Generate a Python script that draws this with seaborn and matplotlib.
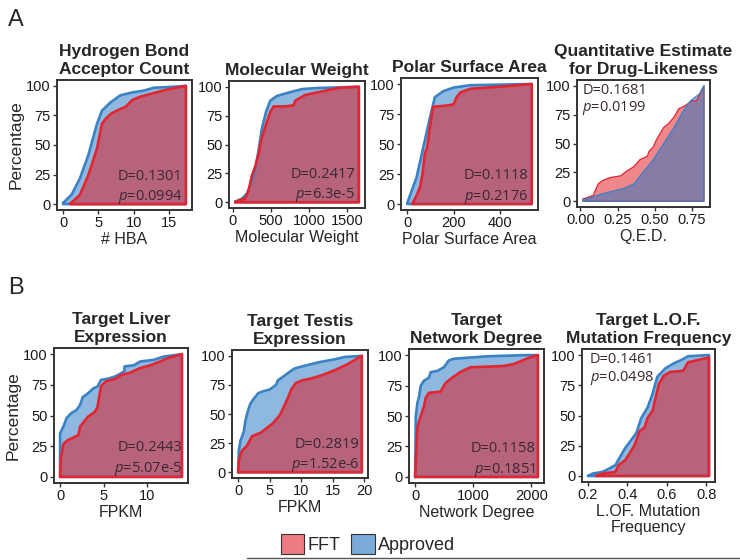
import matplotlib
matplotlib.use("Agg")
import matplotlib.pyplot as plt
from matplotlib.lines import Line2D
from matplotlib.patches import Patch
from matplotlib.ticker import FormatStrFormatter
import seaborn as sns

# ---- data: cumulative percentage curves (x, %) ----
# A1 hydrogen bond acceptor count
hba_app_x = [0, 1.2, 2.4, 3.6, 4.8, 5.5, 6.7, 8.1, 9.8, 11.4, 12.9, 14.8, 17.4]
hba_app_y = [1, 8, 22, 42, 68, 79, 86, 92, 94.5, 96, 98.5, 99, 100]
hba_fft_x = [1, 1.7, 2.4, 3.6, 4.8, 5.5, 6, 6.9, 8.3, 8.8, 9.8, 11, 12.9, 14.8, 17.4]
hba_fft_y = [0.5, 4, 8, 25, 47, 68, 72, 77, 81, 82, 88, 91, 94, 97, 100]

# A2 molecular weight
mw_app_x = [31, 118, 184, 228, 294, 338, 382, 434, 491, 579, 732, 908, 1127, 1653]
mw_app_y = [0.5, 3, 7.5, 14, 28, 45, 64, 78, 88, 92, 95, 98, 99, 100]
mw_fft_x = [31, 96, 162, 206, 250, 294, 338, 382, 434, 491, 535, 689, 798, 820, 952, 1171, 1390, 1653]
mw_fft_y = [0, 2, 3, 10, 23, 31, 42, 56, 67, 78, 83, 83, 84, 88, 93, 96, 99, 100]

# A3 polar surface area
psa_app_x = [0, 19, 40, 69, 98, 119, 155, 199, 271, 537]
psa_app_y = [0.5, 11, 22, 47, 72, 89, 94, 97, 99, 100]
psa_fft_x = [23, 40, 55, 66, 76, 86, 98, 112, 170, 199, 213, 230, 271, 414, 537]
psa_fft_y = [0.5, 7, 14, 25, 42, 47, 64, 81, 82, 83, 89, 93, 96, 98, 100]

# A4 QED
qed_fft_x = [0.018, 0.086, 0.12, 0.15, 0.20, 0.27, 0.31, 0.36, 0.40, 0.45, 0.46, 0.49, 0.51,
             0.56, 0.59, 0.63, 0.66, 0.70, 0.75, 0.78, 0.83]
qed_fft_y = [2, 5, 15, 18, 20.5, 22, 26, 30, 36, 39, 43, 47, 53, 64, 67, 73, 80, 82.5, 87, 87, 100]
qed_app_x = [0.018, 0.15, 0.29, 0.36, 0.42, 0.49, 0.56, 0.63, 0.69, 0.74, 0.80, 0.83]
qed_app_y = [1, 6.5, 11, 15, 25, 36, 50, 64, 78, 87, 93, 100]

# B1 liver expression (FPKM)
liver_app_x = [0, 0, 0.38, 0.75, 1.3, 1.9, 2.3, 2.6, 3.2, 3.8, 4.3, 4.7, 5.5, 6.4, 7.4, 7.4,
               8.5, 9.2, 10.8, 11.9, 14]
liver_app_y = [0, 35.4, 41, 48, 52, 54.5, 58.6, 65, 68, 72, 73.6, 79, 80, 82, 86, 90,
               91, 94, 95.4, 98, 100]
liver_fft_x = [0, 0.1, 0.4, 0.9, 2.1, 2.3, 3.2, 4, 4.3, 4.7, 5.3, 6.4, 7, 7.9, 9.2, 10.4, 11.5, 12.3, 14]
liver_fft_y = [0, 16, 27, 30, 34, 41, 49, 53, 57, 74, 78, 80, 83, 84.5, 88.6, 91, 94, 96.6, 100]

# B2 testis expression (FPKM)
testis_app_x = [0, 0.1, 0.36, 0.9, 1.1, 1.4, 1.9, 2.4, 3.2, 4, 5, 6, 6.3, 7.1, 8.1, 8.9,
                10.2, 12.8, 15.3, 16.9, 19.6]
testis_app_y = [0, 18.5, 27, 35, 43, 50, 58.6, 62.7, 68, 69.6, 71, 75, 79, 82, 86, 89,
                91, 94.5, 97, 99, 100]
testis_fft_x = [0, 0.1, 0.6, 1.4, 2.2, 3.5, 4.5, 5.5, 6.6, 7.3, 7.9, 8.4, 9.1, 10.2, 11.7,
                13.3, 15.3, 17.4, 19.6]
testis_fft_y = [0, 10, 18.5, 22.7, 31, 33.7, 37.8, 42, 49, 57, 64, 71, 76.5, 79, 80.7,
                83.4, 87.6, 93, 100]

# B3 network degree
degree_app_x = [0, 11, 40, 68, 97, 153, 239, 267, 381, 494, 580, 665, 1233, 1915, 2114]
degree_app_y = [0, 50, 61, 66, 75, 79, 81.5, 86, 87, 90, 95.6, 97, 99, 100, 100]
degree_fft_x = [0, 40, 97, 153, 182, 239, 437, 523, 636, 778, 949, 1517, 1688, 1972, 2114]
degree_fft_y = [0, 41, 50, 58, 65, 69, 70, 77, 81.5, 86, 90, 91, 92.5, 98, 100]

# B4 loss-of-function mutation frequency
lof_app_x = [0.2, 0.224, 0.274, 0.306, 0.339, 0.363, 0.388, 0.42, 0.445, 0.47, 0.502, 0.527,
             0.551, 0.592, 0.633, 0.674, 0.707, 0.813]
lof_app_y = [0, 2, 3.4, 6, 9, 16, 23, 30, 35.6, 48, 56.6, 68, 82, 89, 93, 96, 99, 100]
lof_fft_x = [0.241, 0.274, 0.339, 0.355, 0.388, 0.412, 0.437, 0.461, 0.486, 0.502, 0.527,
             0.543, 0.559, 0.584, 0.617, 0.682, 0.707, 0.813]
lof_fft_y = [0, 2, 3.4, 9, 13, 19, 26, 37, 40, 48, 54, 65, 76, 83, 86, 87, 94, 98]

stats_d = ["0.1301", "0.2417", "0.1118", "0.1681", "0.2443", "0.2819", "0.1158", "0.1461"]
stats_p = ["0.0994", "6.3e-5", "0.2176", "0.0199", "5.07e-5", "1.52e-6", "0.1851", "0.0498"]

titles = ["Hydrogen Bond\nAcceptor Count", "Molecular Weight", "Polar Surface Area",
          "Quantitative Estimate\nfor Drug-Likeness", "Target Liver\nExpression",
          "Target Testis\nExpression", "Target\nNetwork Degree", "Target L.O.F.\nMutation Frequency"]
xlabels = ["# HBA", "Molecular Weight", "Polar Surface Area", "Q.E.D.", "FPKM", "FPKM",
           "Network Degree", "L.OF. Mutation\nFrequency"]
xticks = [[0, 5, 10, 15], [0, 500, 1000, 1500], [0, 200, 400], [0, 0.25, 0.5, 0.75],
          [0, 5, 10], [0, 5, 10, 15, 20], [0, 1000, 2000], [0.2, 0.4, 0.6, 0.8]]
yticks = [0, 25, 50, 75, 100]

curves = [
    (hba_app_x, hba_app_y, hba_fft_x, hba_fft_y),
    (mw_app_x, mw_app_y, mw_fft_x, mw_fft_y),
    (psa_app_x, psa_app_y, psa_fft_x, psa_fft_y),
    (qed_app_x, qed_app_y, qed_fft_x, qed_fft_y),
    (liver_app_x, liver_app_y, liver_fft_x, liver_fft_y),
    (testis_app_x, testis_app_y, testis_fft_x, testis_fft_y),
    (degree_app_x, degree_app_y, degree_fft_x, degree_fft_y),
    (lof_app_x, lof_app_y, lof_fft_x, lof_fft_y),
]

# ---- layout (pixel boxes: left, top, right, bottom) ----
W, H = 740, 560
boxes = [(57, 80, 192, 210), (229, 81, 365, 208), (401, 78, 538, 210), (577, 80, 710, 207),
         (54, 348, 188, 483), (232, 350, 368, 478), (409, 349, 544, 483), (582, 349, 715, 482)]
# where the D / p text sits (x in axes fraction, alignment, y of D line, y of p line)
anno = [(0.93, "right", 0.26, 0.10), (0.93, "right", 0.26, 0.10), (0.93, "right", 0.26, 0.10),
        (0.04, "left", 0.92, 0.78), (0.96, "right", 0.26, 0.10), (0.94, "right", 0.26, 0.10),
        (0.94, "right", 0.26, 0.10), (0.06, "left", 0.92, 0.78)]

BLUE_FILL, RED_FILL = "#1f72c0", "#e0101a"
BLUE_LINE, RED_LINE = "#3a82c6", "#e42530"

sns.set_style("ticks")
plt.rcParams["font.family"] = ["Liberation Sans", "DejaVu Sans"]
plt.rcParams["mathtext.fontset"] = "custom"
plt.rcParams["mathtext.it"] = "Open Sans:italic"
plt.rcParams["mathtext.rm"] = "Open Sans"


def draw_cdf(ax, xs, ys, fill, line, lw):
    px = list(xs) + [xs[-1], xs[0], xs[0]]
    py = list(ys) + [0, 0, ys[0]]
    ax.fill(px, py, color=fill, alpha=0.5, lw=0)
    sns.lineplot(x=px, y=py, sort=False, estimator=None, color=line, lw=lw, ax=ax)


fig = plt.figure(figsize=(W / 100, H / 100), dpi=100)

for i, (l, t, r, b) in enumerate(boxes):
    ax = fig.add_axes([l / W, 1 - b / H, (r - l) / W, (b - t) / H])
    app_x, app_y, fft_x, fft_y = curves[i]
    if i == 3:
        # QED panel: thin lines, approved drawn on top
        draw_cdf(ax, fft_x, fft_y, RED_FILL, RED_LINE, 0.9)
        draw_cdf(ax, app_x, app_y, BLUE_FILL, BLUE_LINE, 0.9)
    else:
        draw_cdf(ax, app_x, app_y, BLUE_FILL, BLUE_LINE, 1.9)
        draw_cdf(ax, fft_x, fft_y, RED_FILL, RED_LINE, 1.9)

    lo = min(min(app_x), min(fft_x))
    hi = max(max(app_x), max(fft_x))
    pad = (hi - lo) * 0.05
    ax.set_xlim(lo - pad, hi + pad)
    ax.set_ylim(-5, 105)
    ax.set_xticks(xticks[i])
    ax.set_yticks(yticks)
    if i == 3:
        ax.xaxis.set_major_formatter(FormatStrFormatter("%.2f"))
    elif i == 7:
        ax.xaxis.set_major_formatter(FormatStrFormatter("%.1f"))
    ax.tick_params(labelsize=10.5, length=3, width=1, color="#333333", pad=1.5,
                   labelcolor="#1a1a1a")
    for s in ax.spines.values():
        s.set_color("#333333")
        s.set_linewidth(1.4)

    ax.set_title(titles[i], fontsize=12.5, fontweight="bold", pad=4, linespacing=1.3)
    ax.set_xlabel(xlabels[i], fontsize=11.5, labelpad=1, linespacing=1.15)
    if i % 4 == 0:
        ax.set_ylabel("Percentage", fontsize=12.5, labelpad=2)
    else:
        ax.set_ylabel("")

    ax_x, ha, yd, yp = anno[i]
    ax.text(ax_x, yd, "D=" + stats_d[i], transform=ax.transAxes, ha=ha, va="center",
            fontsize=10.5, family="Open Sans", color="#3a2830")
    ax.text(ax_x, yp, "$p$=" + stats_p[i], transform=ax.transAxes, ha=ha, va="center",
            fontsize=10.5, family="Open Sans", color="#3a2830")

fig.text(8 / W, 1 - 9 / H, "A", fontsize=17, va="top", ha="left")
fig.text(8 / W, 1 - 277 / H, "B", fontsize=17, va="top", ha="left")

handles = [Patch(facecolor="#ee7a82", edgecolor="#333333", lw=0.8),
           Patch(facecolor="#7aaad8", edgecolor="#333333", lw=0.8)]
fig.legend(handles, ["FFT", "Approved"], loc="center", bbox_to_anchor=(368 / W, 1 - 544 / H),
           ncol=2, frameon=False, fontsize=13, handlelength=1.3, handleheight=1.3,
           handletextpad=0.2, columnspacing=0.6)
fig.add_artist(Line2D([247 / W, 1.0], [1 - 558 / H, 1 - 558 / H], transform=fig.transFigure,
                      color="#555555", lw=1))

fig.savefig("out.png", dpi=100)
